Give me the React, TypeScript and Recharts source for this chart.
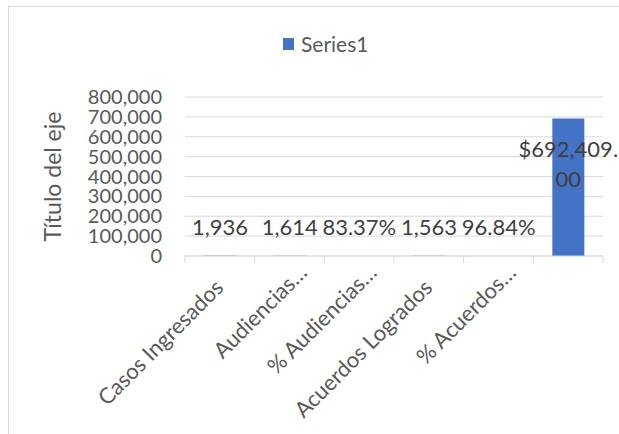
import React from 'react';
import { BarChart, Bar, XAxis, YAxis, CartesianGrid, Legend, LabelList } from 'recharts';

const categories = ['Casos Ingresados', 'Audiencias…', '% Audiencias…', 'Acuerdos Logrados', '% Acuerdos…', ''];
const values = [1936, 1614, 0.8337, 1563, 0.9684, 692409];
const labelFormats = ['number', 'number', 'percent', 'number', 'percent', 'currency'];
const yTicks = [0, 100000, 200000, 300000, 400000, 500000, 600000, 700000, 800000];
const seriesName = 'Series1';
const axisTitle = 'Título del eje';

const W = 619;
const H = 434;
const MARGIN = { top: 97, right: 16, left: 0, bottom: 0 };
const YAXIS_W = 185;
const XAXIS_H = 178;
const BAND = (W - MARGIN.left - MARGIN.right - YAXIS_W) / categories.length;
const FONT = 'Lato, "Open Sans", sans-serif';
const BLUE = '#4472C4';
const GRID = '#d9d9d9';

const fmt = (v: number, f: string) => {
  if (f === 'percent') return (v * 100).toFixed(2) + '%';
  if (f === 'currency') return '$' + v.toLocaleString('en-US', { minimumFractionDigits: 2, maximumFractionDigits: 2 });
  return v.toLocaleString('en-US');
};

const data = categories.map((name, i) => ({
  name,
  value: values[i],
  labelText: fmt(values[i], labelFormats[i]),
}));

const XTick = (props: any) => {
  const { x, y, payload, index } = props;
  const label: string = payload.value;
  const truncated = label.endsWith('…');
  const ax = x + (truncated ? 19 : 5);
  const ay = y + (truncated ? 18 : 33);
  return (
    <g>
      <line x1={x - BAND / 2} x2={x - BAND / 2} y1={y} y2={y + 7} stroke={GRID} />
      {index === categories.length - 1 && (
        <line x1={x + BAND / 2} x2={x + BAND / 2} y1={y} y2={y + 7} stroke={GRID} />
      )}
      <text
        x={ax}
        y={ay}
        transform={`rotate(-45 ${ax} ${ay})`}
        textAnchor="end"
        fill="#595959"
        fontSize={22}
        fontFamily={FONT}
      >
        {label}
      </text>
    </g>
  );
};

const ValueLabel = (props: any) => {
  const { x, y, width, height, value } = props;
  const cx = x + width / 2;
  const text = String(value);
  if (height > 60) {
    const lines = [text.slice(0, 9), text.slice(9)];
    return (
      <g>
        {lines.map((l, i) => (
          <text key={i} x={cx} y={y + 39 + i * 30} textAnchor="middle" fill="#404040" fontSize={22} fontFamily={FONT}>
            {l}
          </text>
        ))}
      </g>
    );
  }
  return (
    <text x={cx} y={y - 21} textAnchor="middle" fill="#404040" fontSize={22} fontFamily={FONT}>
      {text}
    </text>
  );
};

const LegendContent = () => (
  <div style={{ display: 'flex', alignItems: 'center', fontFamily: FONT, fontSize: 21, color: '#595959' }}>
    <span style={{ display: 'inline-block', width: 11, height: 12, background: BLUE, marginRight: 7 }} />
    <span>{seriesName}</span>
  </div>
);

const YTitle = (props: any) => {
  const { viewBox } = props;
  const cx = viewBox.x + 52;
  const cy = viewBox.y + viewBox.height / 2;
  return (
    <text
      x={cx}
      y={cy}
      transform={`rotate(-90 ${cx} ${cy})`}
      textAnchor="middle"
      dominantBaseline="central"
      fill="#595959"
      fontSize={23}
      fontFamily={FONT}
    >
      {axisTitle}
    </text>
  );
};

export default function App() {
  return (
    <div style={{ position: 'absolute', left: 0, top: 0, width: W, height: H, background: '#fff', overflow: 'hidden' }}>
      <div style={{ position: 'absolute', left: 8, top: 6, width: W, height: H, borderLeft: `1px solid ${GRID}`, borderTop: `1px solid ${GRID}` }} />
      <div style={{ position: 'absolute', left: 0, top: 0 }}>
        <BarChart width={W} height={H} data={data} margin={MARGIN}>
          <CartesianGrid vertical={false} stroke={GRID} />
          <XAxis
            dataKey="name"
            height={XAXIS_H}
            interval={0}
            axisLine={{ stroke: GRID }}
            tickLine={false}
            tickSize={0}
            tickMargin={0}
            tick={<XTick />}
          />
          <YAxis
            width={YAXIS_W}
            domain={[0, 800000]}
            ticks={yTicks}
            interval={0}
            axisLine={false}
            tickLine={false}
            tickSize={0}
            tickMargin={23}
            tickFormatter={(v: number) => v.toLocaleString('en-US')}
            tick={{ fill: '#595959', fontSize: 20, fontFamily: FONT }}
            label={<YTitle />}
          />
          <Legend
            verticalAlign="middle"
            align="center"
            content={<LegendContent />}
            wrapperStyle={{ top: 31, left: 283, width: 120, height: 28 }}
          />
          <Bar dataKey="value" name={seriesName} fill={BLUE} barSize={32} isAnimationActive={false}>
            <LabelList dataKey="labelText" content={<ValueLabel />} />
          </Bar>
        </BarChart>
      </div>
    </div>
  );
}
